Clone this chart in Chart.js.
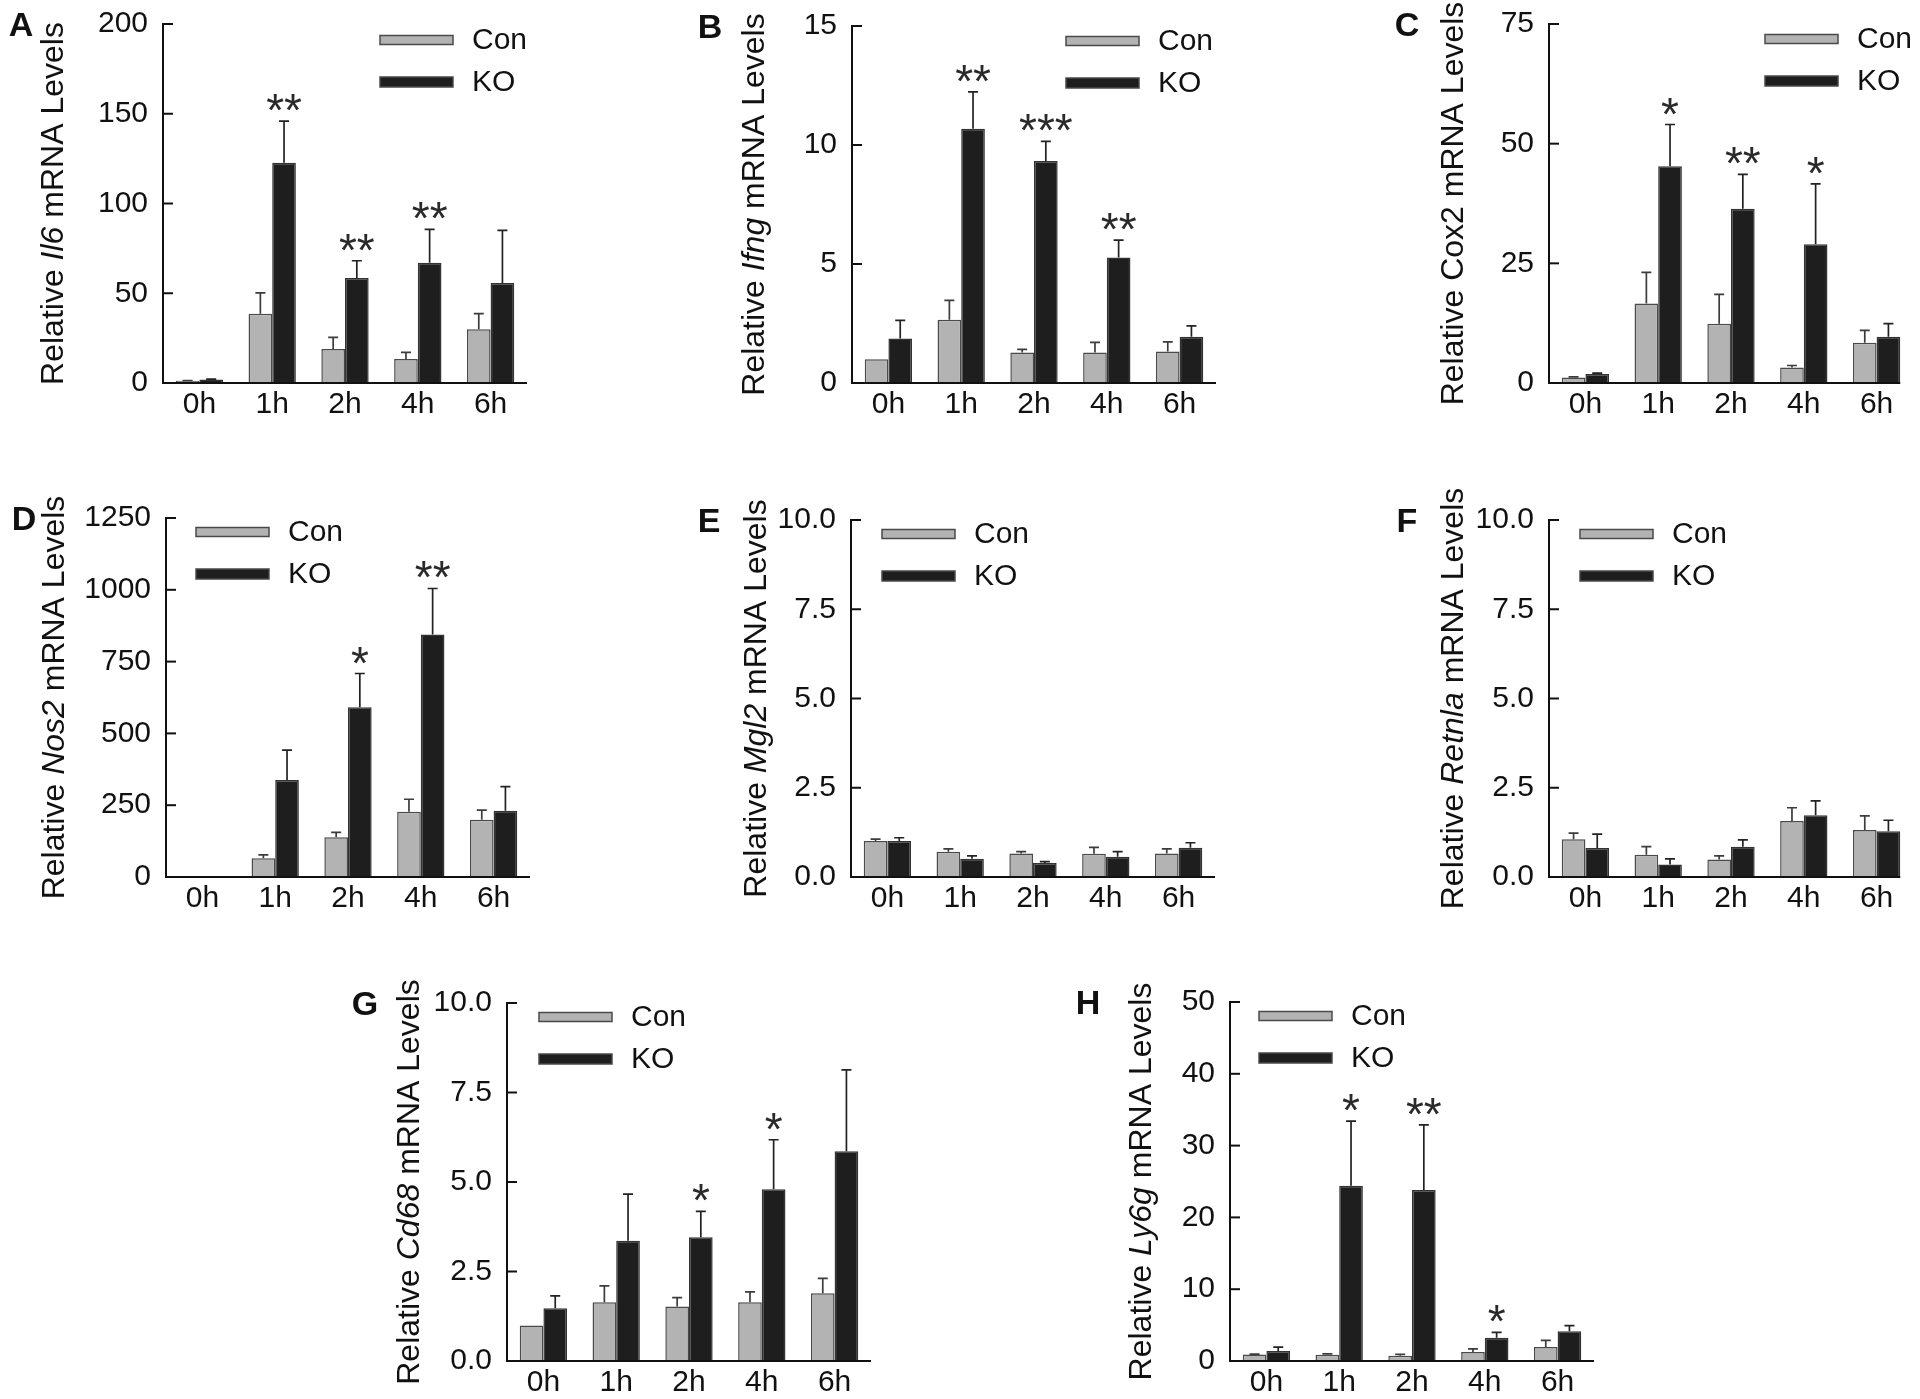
<!DOCTYPE html>
<html>
<head>
<meta charset="utf-8">
<script src="https://cdn.jsdelivr.net/npm/chart.js@4.4.1/dist/chart.umd.min.js"></script>
<style>
  html, body { margin: 0; padding: 0; background: #fff; }
  #fig { position: relative; width: 1920px; height: 1399px; overflow: hidden; background: #fff; }
  #fig canvas { position: absolute; }
</style>
</head>
<body>
<div id="fig"></div>
<script>
// ---- data ----
const hours = ['0h', '1h', '2h', '4h', '6h'];

const il6Con = [1.2, 38.6, 19.0, 13.4, 30.0];
const il6ConSem = [0.2, 11.6, 6.4, 3.7, 8.6];
const il6Ko = [1.9, 122.7, 58.5, 67.0, 55.7];
const il6KoSem = [0.3, 23.2, 9.6, 18.6, 29.3];
const il6Stars = ['', '**', '**', '**', ''];
const il6Ticks = [0, 50, 100, 150, 200];

const ifngCon = [1.0, 2.66, 1.28, 1.28, 1.32];
const ifngConSem = [0, 0.81, 0.13, 0.43, 0.41];
const ifngKo = [1.87, 10.68, 9.33, 5.27, 1.94];
const ifngKoSem = [0.76, 1.55, 0.82, 0.73, 0.46];
const ifngStars = ['', '**', '***', '**', ''];
const ifngTicks = [0, 5, 10, 15];

const cox2Con = [1.17, 16.6, 12.4, 3.24, 8.4];
const cox2ConSem = [0.1, 6.5, 6.1, 0.42, 2.6];
const cox2Ko = [1.86, 45.3, 36.4, 29.0, 9.66];
const cox2KoSem = [0.2, 8.7, 7.2, 12.6, 2.74];
const cox2Stars = ['', '*', '**', '*', ''];
const cox2Ticks = [0, 25, 50, 75];

const nos2Con = [3, 65.7, 138, 227, 199];
const nos2ConSem = [0, 11.3, 17.5, 43.7, 33.7];
const nos2Ko = [1, 337.6, 591, 844.5, 230.4];
const nos2KoSem = [0, 104.4, 117.5, 160.1, 84.1];
const nos2Stars = ['', '', '*', '**', ''];
const nos2Ticks = [0, 250, 500, 750, 1000, 1250];

const mgl2Con = [1.01, 0.71, 0.66, 0.65, 0.66];
const mgl2ConSem = [0.05, 0.08, 0.05, 0.18, 0.13];
const mgl2Ko = [1.01, 0.51, 0.39, 0.57, 0.82];
const mgl2KoSem = [0.09, 0.08, 0.04, 0.14, 0.14];
const mgl2Stars = ['', '', '', '', ''];
const mgl2Ticks = [0, 2.5, 5, 7.5, 10];

const retnlaCon = [1.06, 0.62, 0.49, 1.57, 1.32];
const retnlaConSem = [0.17, 0.23, 0.10, 0.37, 0.39];
const retnlaKo = [0.81, 0.35, 0.85, 1.73, 1.28];
const retnlaKoSem = [0.39, 0.16, 0.19, 0.40, 0.31];
const retnlaStars = ['', '', '', '', ''];
const retnlaTicks = [0, 2.5, 5, 7.5, 10];

const cd68Con = [0.99, 1.64, 1.52, 1.64, 1.89];
const cd68ConSem = [0, 0.46, 0.25, 0.29, 0.42];
const cd68Ko = [1.47, 3.36, 3.46, 4.80, 5.86];
const cd68KoSem = [0.35, 1.30, 0.72, 1.38, 2.27];
const cd68Stars = ['', '', '*', '*', ''];
const cd68Ticks = [0, 2.5, 5, 7.5, 10];

const ly6gCon = [0.92, 0.88, 0.74, 1.25, 1.94];
const ly6gConSem = [0.05, 0.12, 0.18, 0.45, 0.92];
const ly6gKo = [1.38, 24.4, 23.8, 3.23, 4.15];
const ly6gKoSem = [0.56, 9.0, 9.1, 0.77, 0.79];
const ly6gStars = ['', '*', '**', '*', ''];
const ly6gTicks = [0, 10, 20, 30, 40, 50];

// ---- layout / style ----
const FONT = '"Liberation Sans", Arial, Helvetica, sans-serif';
const INK = '#111';
const CON_FILL = '#b3b3b3';
const KO_FILL = '#1e1e1e';
const PAD_L = 170, PAD_T = 30, PAD_R = 30, PAD_B = 55;

const panels = [
  { letter: 'A', gene: 'Il6', italic: true, con: il6Con, conSem: il6ConSem, ko: il6Ko, koSem: il6KoSem, stars: il6Stars, ticks: il6Ticks, dec: 0,
    x: 163, y: 21, w: 364, h: 362, titleDx: -109, legDx: 217, legDy: [16, 58] },
  { letter: 'B', gene: 'Ifng', italic: true, con: ifngCon, conSem: ifngConSem, ko: ifngKo, koSem: ifngKoSem, stars: ifngStars, ticks: ifngTicks, dec: 0,
    x: 852, y: 23, w: 364, h: 360, titleDx: -97, legDx: 214, legDy: [15, 57] },
  { letter: 'C', gene: 'Cox2', italic: false, con: cox2Con, conSem: cox2ConSem, ko: cox2Ko, koSem: cox2KoSem, stars: cox2Stars, ticks: cox2Ticks, dec: 0,
    x: 1549, y: 21, w: 364, h: 362, titleDx: -95, legDx: 216, legDy: [15, 57], clip: true },
  { letter: 'D', gene: 'Nos2', italic: true, con: nos2Con, conSem: nos2ConSem, ko: nos2Ko, koSem: nos2KoSem, stars: nos2Stars, ticks: nos2Ticks, dec: 0,
    x: 166, y: 515, w: 364, h: 362, titleDx: -111, legDx: 30, legDy: [14, 56] },
  { letter: 'E', gene: 'Mgl2', italic: true, con: mgl2Con, conSem: mgl2ConSem, ko: mgl2Ko, koSem: mgl2KoSem, stars: mgl2Stars, ticks: mgl2Ticks, dec: 1,
    x: 851, y: 517, w: 364, h: 360, titleDx: -94, legDx: 31, legDy: [14, 56] },
  { letter: 'F', gene: 'Retnla', italic: true, con: retnlaCon, conSem: retnlaConSem, ko: retnlaKo, koSem: retnlaKoSem, stars: retnlaStars, ticks: retnlaTicks, dec: 1,
    x: 1549, y: 517, w: 364, h: 360, titleDx: -95, legDx: 31, legDy: [14, 56], clip: true },
  { letter: 'G', gene: 'Cd68', italic: true, con: cd68Con, conSem: cd68ConSem, ko: cd68Ko, koSem: cd68KoSem, stars: cd68Stars, ticks: cd68Ticks, dec: 1,
    x: 507, y: 1000, w: 364, h: 361, titleDx: -97, legDx: 32, legDy: [14, 56] },
  { letter: 'H', gene: 'Ly6g', italic: true, con: ly6gCon, conSem: ly6gConSem, ko: ly6gKo, koSem: ly6gKoSem, stars: ly6gStars, ticks: ly6gTicks, dec: 0,
    x: 1230, y: 999, w: 364, h: 362, titleDx: -88, legDx: 29, legDy: [14, 56] }
];

// error bars, stars, axis, ticks, legend, titles
const decor = {
  id: 'decor',
  afterDatasetsDraw(chart, args, opts) {
    const p = opts.panel;
    const ctx = chart.ctx, a = chart.chartArea, ys = chart.scales.y;
    ctx.save();

    // error bars (upper only, with cap)
    chart.data.datasets.forEach((ds, di) => {
      const meta = chart.getDatasetMeta(di);
      meta.data.forEach((bar, i) => {
        const sem = ds.sem[i];
        if (!sem) return;
        const top = ys.getPixelForValue(ds.data[i] + sem);
        ctx.strokeStyle = di === 0 ? '#3c3c3c' : '#222';
        ctx.lineWidth = 1.7;
        ctx.beginPath();
        ctx.moveTo(bar.x, bar.y);
        ctx.lineTo(bar.x, top);
        ctx.moveTo(bar.x - 5, top);
        ctx.lineTo(bar.x + 5, top);
        ctx.stroke();
      });
    });

    // significance stars above KO bars
    const koMeta = chart.getDatasetMeta(1);
    ctx.fillStyle = '#2a2a2a';
    ctx.font = '46px ' + FONT;
    ctx.textAlign = 'center';
    ctx.textBaseline = 'alphabetic';
    p.stars.forEach((s, i) => {
      if (!s) return;
      const bar = koMeta.data[i];
      const top = ys.getPixelForValue(p.ko[i] + p.koSem[i]);
      ctx.fillText(s, bar.x, top + 5);
    });

    // x axis line
    const last = koMeta.data[koMeta.data.length - 1];
    const xEnd = p.clip ? last.x + last.width / 2 : a.right;
    ctx.strokeStyle = INK;
    ctx.lineWidth = 2;
    ctx.beginPath();
    ctx.moveTo(a.left - 1, a.bottom);
    ctx.lineTo(xEnd, a.bottom);
    ctx.stroke();

    // inward y ticks
    ys.ticks.forEach(t => {
      const py = ys.getPixelForValue(t.value);
      ctx.beginPath();
      ctx.moveTo(a.left, py);
      ctx.lineTo(a.left + 10, py);
      ctx.stroke();
    });
    ctx.restore();
  },
  afterDraw(chart, args, opts) {
    const p = opts.panel;
    const ctx = chart.ctx, a = chart.chartArea;
    ctx.save();

    // legend
    const sw = 73;
    const lx = a.left + p.legDx;
    [['Con', CON_FILL, 9], ['KO', KO_FILL, 10]].forEach(([label, fill, hh], k) => {
      const cy = a.top + p.legDy[k];
      ctx.fillStyle = fill;
      ctx.fillRect(lx, cy - hh / 2, sw, hh);
      ctx.strokeStyle = '#4a4a4a';
      ctx.lineWidth = 1.5;
      ctx.strokeRect(lx, cy - hh / 2, sw, hh);
      ctx.fillStyle = INK;
      ctx.font = '30px ' + FONT;
      ctx.textAlign = 'left';
      ctx.textBaseline = 'middle';
      ctx.fillText(label, lx + sw + 19, cy + 1);
    });

    // panel letter
    ctx.fillStyle = '#111';
    ctx.font = 'bold 34px ' + FONT;
    ctx.textAlign = 'center';
    ctx.textBaseline = 'middle';
    ctx.fillText(p.letter, a.left - 142, a.top + 3);

    // rotated y title with italic gene symbol
    const parts = [['Relative ', false], [p.gene, p.italic], [' mRNA Levels', false]];
    const fontOf = it => (it ? 'italic ' : '') + '32px ' + FONT;
    let total = 0;
    parts.forEach(([t, it]) => { ctx.font = fontOf(it); total += ctx.measureText(t).width; });
    ctx.translate(a.left + p.titleDx, (a.top + a.bottom) / 2);
    ctx.rotate(-Math.PI / 2);
    ctx.textAlign = 'left';
    ctx.textBaseline = 'middle';
    ctx.fillStyle = INK;
    let cx = -total / 2;
    parts.forEach(([t, it]) => {
      ctx.font = fontOf(it);
      ctx.fillText(t, cx, 0);
      cx += ctx.measureText(t).width;
    });
    ctx.restore();
  }
};

const fig = document.getElementById('fig');

panels.forEach(p => {
  const cv = document.createElement('canvas');
  const W = PAD_L + p.w + PAD_R, H = PAD_T + p.h + PAD_B;
  cv.width = W; cv.height = H;
  cv.style.width = W + 'px'; cv.style.height = H + 'px';
  cv.style.left = (p.x - PAD_L) + 'px';
  cv.style.top = (p.y - PAD_T) + 'px';
  fig.appendChild(cv);

  new Chart(cv, {
    type: 'bar',
    data: {
      labels: hours,
      datasets: [
        { label: 'Con', data: p.con, sem: p.conSem, backgroundColor: CON_FILL, borderColor: '#4a4a4a', borderWidth: 1.5 },
        { label: 'KO', data: p.ko, sem: p.koSem, backgroundColor: KO_FILL, borderColor: '#333', borderWidth: 1.5 }
      ]
    },
    options: {
      responsive: false,
      animation: false,
      devicePixelRatio: 1,
      layout: { padding: { left: 0, top: PAD_T, right: PAD_R, bottom: 0 } },
      datasets: { bar: { categoryPercentage: 0.65, barPercentage: 1.0 } },
      plugins: { legend: { display: false }, tooltip: { enabled: false }, decor: { panel: p } },
      scales: {
        x: {
          grid: { display: false },
          border: { display: false },
          ticks: { color: INK, font: { family: FONT, size: 30 }, padding: -4, maxRotation: 0, autoSkip: false },
          afterFit: s => { s.height = PAD_B; }
        },
        y: {
          min: p.ticks[0],
          max: p.ticks[p.ticks.length - 1],
          grid: { display: true, drawOnChartArea: false, drawTicks: false },
          border: { display: true, color: INK, width: 2 },
          ticks: {
            color: INK, font: { family: FONT, size: 30 }, padding: 15,
            callback: v => Number(v).toFixed(p.dec)
          },
          afterBuildTicks: s => { s.ticks = p.ticks.map(v => ({ value: v })); },
          afterFit: s => { s.width = PAD_L; }
        }
      }
    },
    plugins: [decor]
  });
});
</script>
</body>
</html>
